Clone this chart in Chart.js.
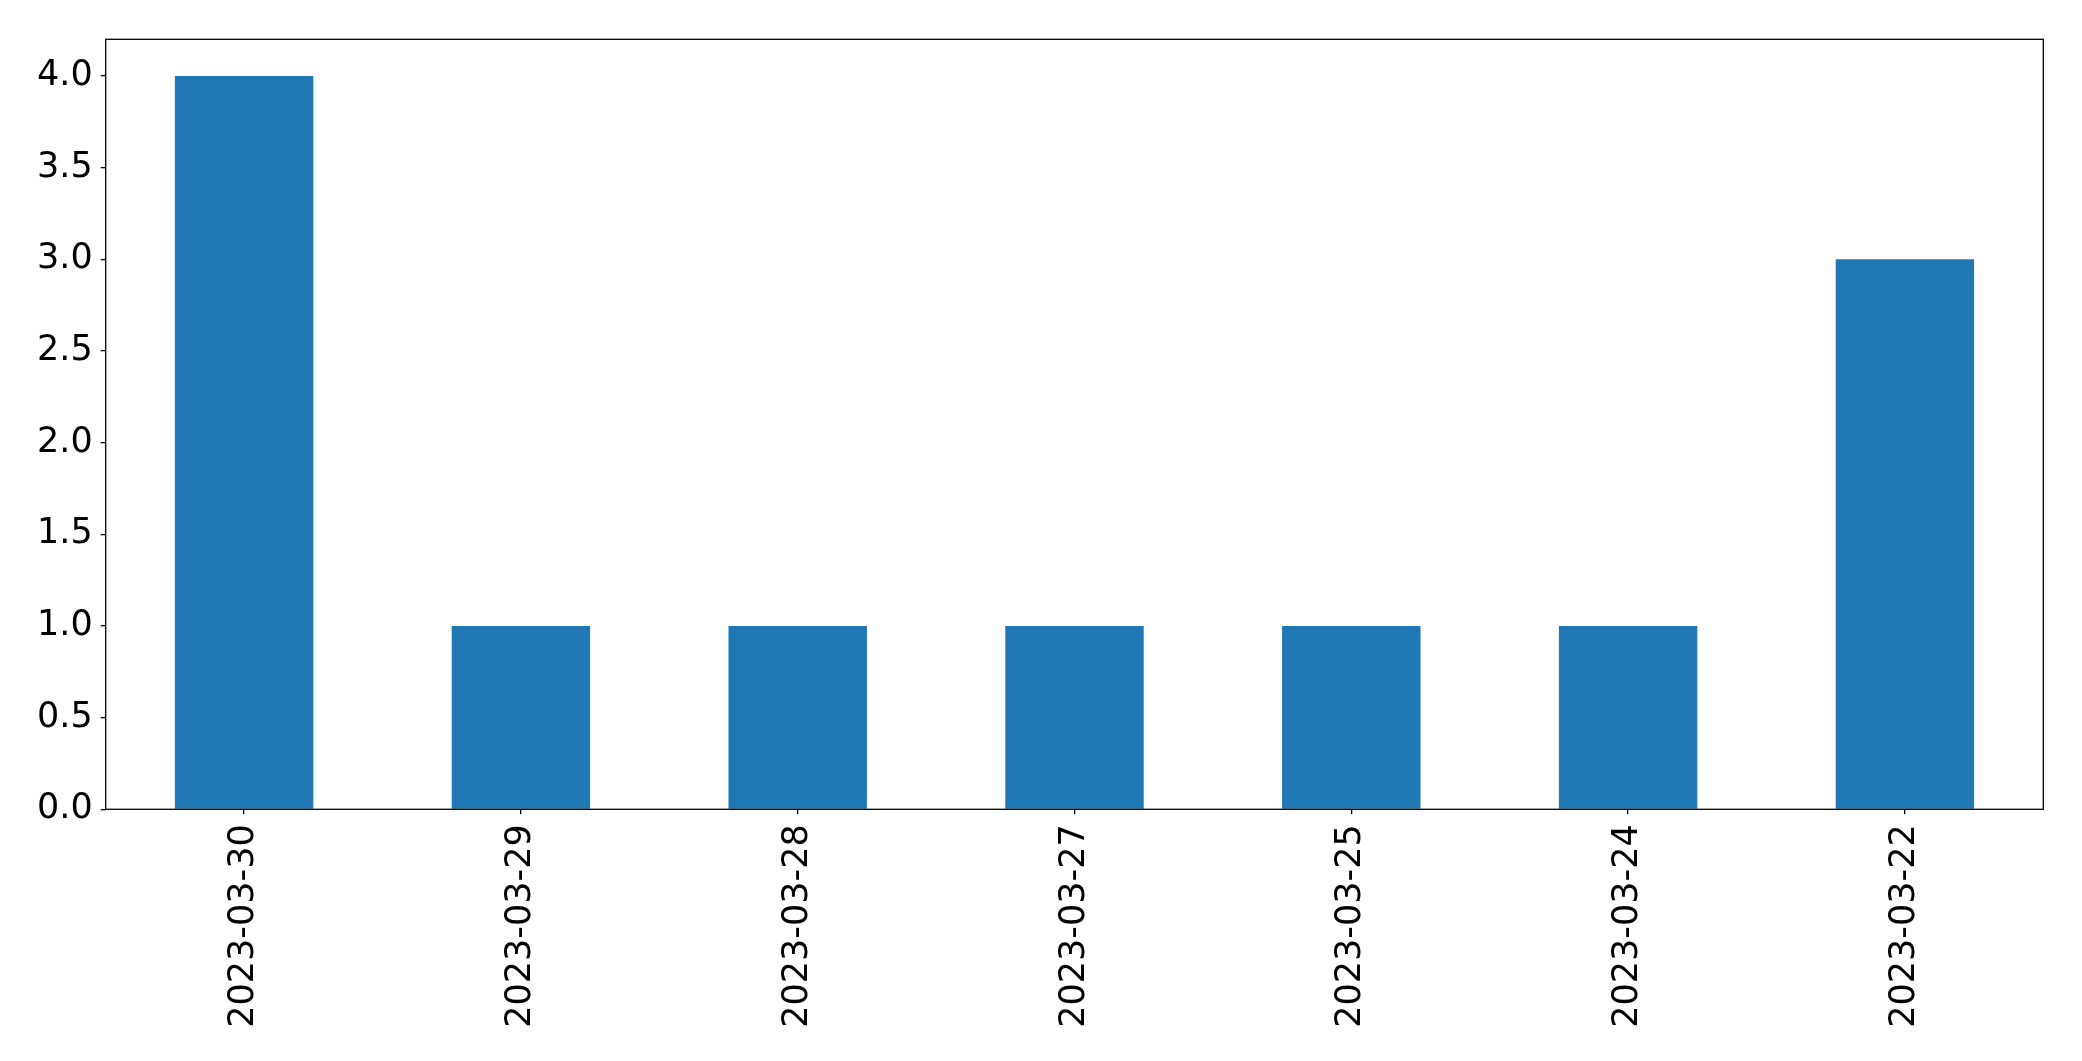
<!DOCTYPE html>
<html>
<head>
<meta charset="utf-8">
<title>Counts per day</title>
<script src="https://cdn.jsdelivr.net/npm/chart.js@4/dist/chart.umd.min.js"></script>
<style>
    html, body { margin: 0; padding: 0; background: #ffffff; overflow: hidden; }
    #canvasParent { width: 2082px; height: 1061px; }
</style>
</head>
<body>
<div id="canvasParent"><canvas id="display" width="2082" height="1061"></canvas></div>
<script>
const dates = ['2023-03-30', '2023-03-29', '2023-03-28', '2023-03-27', '2023-03-25', '2023-03-24', '2023-03-22'];
const counts = [4, 1, 1, 1, 1, 1, 3];
const yTicks = [0, 0.5, 1, 1.5, 2, 2.5, 3, 3.5, 4];

const tickFont = {family: "'DejaVu Sans', sans-serif", size: 35};

// matplotlib style frame round the plot area
let frameBox = {
    id: 'frameBox',
    afterDraw: function (chart) {
        const a = chart.chartArea;
        const ctx = chart.ctx;
        ctx.save();
        ctx.strokeStyle = '#000000';
        ctx.lineWidth = 1.3;
        ctx.strokeRect(a.left, a.top, a.right - a.left, a.bottom - a.top);
        ctx.restore();
    }
};

let chart = new Chart(document.getElementById('display'), {
    type: 'bar',
    data: {
        labels: dates,
        datasets: [{
            data: counts,
            backgroundColor: '#1f77b4',
            borderWidth: 0,
            categoryPercentage: 1.0,
            barPercentage: 0.5
        }]
    },
    options: {
        responsive: false,
        animation: false,
        devicePixelRatio: 1,
        layout: {
            padding: {left: 0, right: 38.7, top: 39.3, bottom: 0}
        },
        plugins: {
            legend: {display: false},
            tooltip: {enabled: false}
        },
        scales: {
            x: {
                grid: {display: true, offset: false, drawOnChartArea: false, drawTicks: true, tickLength: 5, color: '#000000', lineWidth: 1.3},
                border: {display: false},
                ticks: {
                    font: tickFont,
                    color: '#000000',
                    maxRotation: 90,
                    minRotation: 90,
                    padding: 10,
                    autoSkip: false
                },
                afterFit: function (scale) {
                    scale.height = 1061 - 809.3;
                }
            },
            y: {
                min: 0,
                max: 4.2,
                grid: {display: true, drawOnChartArea: false, drawTicks: true, tickLength: 5, color: '#000000', lineWidth: 1.3},
                border: {display: false},
                ticks: {
                    font: tickFont,
                    color: '#000000',
                    padding: 8,
                    callback: (value) => Number(value).toFixed(1)
                },
                afterBuildTicks: function (scale) {
                    scale.ticks = yTicks.map((v) => ({value: v}));
                },
                afterFit: function (scale) {
                    scale.width = 105.7;
                }
            }
        }
    },
    plugins: [frameBox]
});
</script>
</body>
</html>
